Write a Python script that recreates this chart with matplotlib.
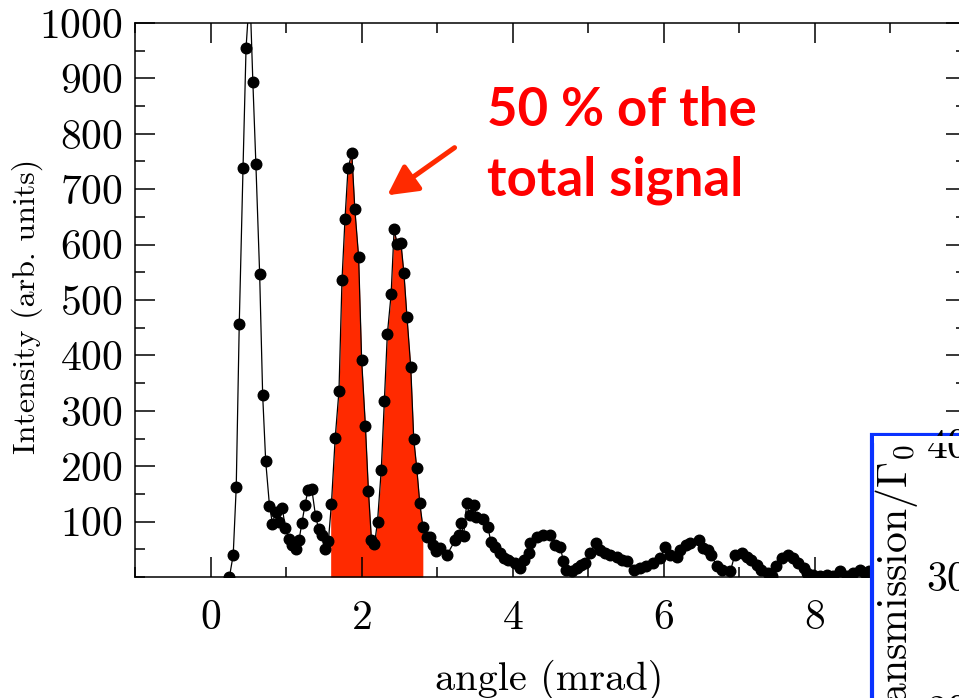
import numpy as np
import matplotlib
matplotlib.use("Agg")
import matplotlib.pyplot as plt
from matplotlib.patches import Rectangle
from matplotlib.ticker import MultipleLocator

plt.rcParams['font.family'] = 'serif'
plt.rcParams['font.serif'] = ['cmr10']
plt.rcParams['mathtext.fontset'] = 'cm'
plt.rcParams['axes.formatter.use_mathtext'] = True

# scattered intensity vs. angle
angle = [
    0.25, 0.30, 0.34, 0.38, 0.43, 0.47, 0.52, 0.56, 0.60, 0.65,
    0.69, 0.73, 0.78, 0.82, 0.86, 0.90, 0.95, 0.99, 1.04, 1.08,
    1.13, 1.17, 1.21, 1.25, 1.29, 1.34, 1.39, 1.43, 1.47, 1.51,
    1.56, 1.60, 1.65, 1.70, 1.74, 1.78, 1.82, 1.87, 1.91, 1.96,
    2.00, 2.05, 2.09, 2.13, 2.17, 2.21, 2.26, 2.30, 2.34, 2.39,
    2.43, 2.47, 2.52, 2.56, 2.60, 2.65, 2.69, 2.73, 2.77, 2.81,
    2.86, 2.91, 2.94, 2.98, 3.04, 3.13, 3.24, 3.29, 3.32, 3.35,
    3.39, 3.43, 3.49, 3.52, 3.60, 3.67, 3.71, 3.77, 3.83, 3.88,
    3.94, 4.03, 4.10, 4.15, 4.21, 4.23, 4.32, 4.40, 4.49, 4.56,
    4.63, 4.67, 4.70, 4.78, 4.85, 4.91, 4.96, 5.02, 5.10, 5.15,
    5.22, 5.29, 5.38, 5.44, 5.51, 5.60, 5.68, 5.77, 5.86, 5.95,
    6.02, 6.08, 6.17, 6.21, 6.30, 6.35, 6.46, 6.52, 6.59, 6.63,
    6.70, 6.77, 6.88, 6.94, 7.03, 7.10, 7.16, 7.23, 7.29, 7.38,
    7.43, 7.49, 7.56, 7.65, 7.71, 7.78, 7.85, 7.89, 7.98, 8.07,
    8.16, 8.24, 8.33, 8.42, 8.51, 8.60, 8.66, 8.72, 8.80, 8.88,
    8.96, 9.05,
]
intensity = [
    0, 40, 162, 457, 739, 955, 1060, 894, 746, 547,
    328, 209, 129, 96, 117, 100, 124, 89, 68, 57,
    50, 66, 98, 130, 157, 159, 110, 87, 75, 50,
    65, 132, 251, 336, 536, 647, 738, 765, 664, 578,
    392, 272, 155, 67, 59, 100, 194, 318, 438, 510,
    628, 601, 603, 548, 470, 379, 249, 196, 133, 91,
    73, 72, 58, 47, 52, 40, 67, 76, 97, 74,
    133, 112, 130, 109, 104, 91, 64, 55, 43, 34,
    31, 26, 17, 31, 43, 61, 73, 76, 76, 58,
    55, 28, 13, 10, 16, 22, 25, 43, 61, 49,
    43, 40, 37, 31, 28, 13, 16, 19, 25, 34,
    55, 40, 37, 49, 58, 61, 67, 52, 49, 40,
    19, 13, 10, 40, 43, 37, 31, 22, 13, 7,
    1, 19, 34, 40, 34, 25, 16, 7, 4, 1,
    4, 1, 10, 1, 7, 13, 7, 10, 7, 10,
    8, 6,
]

# angular window holding half of the signal
window = (1.59, 2.81)

x_ticks = [0, 2, 4, 6, 8]
y_ticks = [100, 200, 300, 400, 500, 600, 700, 800, 900, 1000]
inset_ticks = [20, 30, 40]

red = '#ff2a00'
blue = '#0a32ff'

x = np.array(angle)
y = np.array(intensity)

fig = plt.figure(figsize=(9.59, 6.98), dpi=100)
ax = fig.add_axes([135 / 959, 121 / 698, 831 / 959, 554 / 698])

# shaded window under the curve
inside = (x > window[0]) & (x < window[1])
xf = np.concatenate([[window[0]], x[inside], [window[1]]])
yf = np.interp(xf, x, y)
ax.fill_between(xf, 0, yf, color=red, lw=0, zorder=1)

ax.plot(x, y, '-', color='black', lw=0.9, zorder=2)
ax.plot(x, y, 'o', color='black', ms=7.6, zorder=3)

ax.set_xlim(-1, 10)
ax.set_ylim(0, 1000)
ax.set_xticks(x_ticks)
ax.set_yticks(y_ticks)
ax.xaxis.set_minor_locator(MultipleLocator(1))
ax.yaxis.set_minor_locator(MultipleLocator(50))
ax.tick_params(which='both', direction='in', top=True, right=True, width=1.1)
ax.tick_params(which='major', length=14.5)
ax.tick_params(which='minor', length=7.2)
ax.tick_params(axis='x', labelsize=30, pad=16)
ax.tick_params(axis='y', labelsize=30, pad=9)
for s in ax.spines.values():
    s.set_linewidth(1.1)

ax.set_xlabel('angle (mrad)', fontsize=29)
ax.xaxis.set_label_coords(414 / 831, -0.15)
ax.set_ylabel('Intensity (arb. units)', fontsize=23)
ax.yaxis.set_label_coords(-92 / 831, 0.489)

ax.annotate('', xy=(2.34, 689), xytext=(3.23, 775),
            arrowprops=dict(arrowstyle='-|>,head_length=1.8,head_width=0.95',
                            lw=3.6, color=red, shrinkA=0, shrinkB=0))
ax.text(3.66, 886, '50 % of the\ntotal signal', color='#ff0000',
        fontsize=38, fontweight='bold', family='Lato',
        ha='left', va='top', linespacing=1.5)

# framed inset, mostly outside the visible area
box = Rectangle((871.5 / 959, -0.1), 0.2, 0.1 + 263 / 698,
                transform=fig.transFigure, facecolor='white',
                edgecolor=blue, lw=3, zorder=3)
fig.patches.append(box)

ins = fig.add_axes([985 / 959, -11 / 698, 0.2, 266 / 698])
ins.set_zorder(5)
ins.patch.set_alpha(0)
ins.set_ylim(20, 40)
ins.set_yticks(inset_ticks)
ins.set_xticks([])
ins.tick_params(axis='y', labelsize=30, direction='in', length=14, pad=12)
ins.set_ylabel(r'transmission/$\Gamma_0$', fontsize=30)
ins.yaxis.set_label_coords(-0.34, 0.445)

# top strip of the inset image is cut off
cover = Rectangle((874 / 959, 255 / 698), 0.2, 7 / 698,
                  transform=fig.transFigure, facecolor='white',
                  edgecolor='none', zorder=10)
fig.patches.append(cover)

fig.savefig('out.png', dpi=100)
